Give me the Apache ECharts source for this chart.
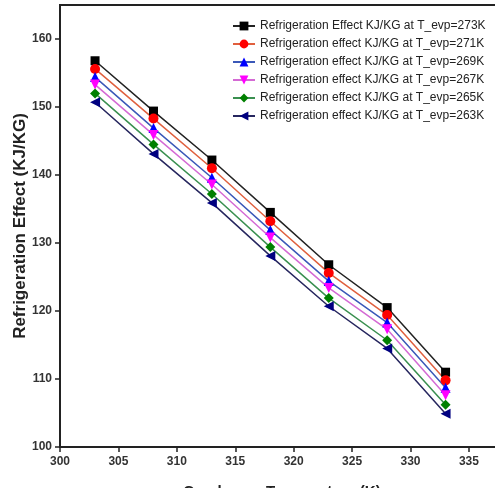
<!DOCTYPE html>
<html>
<head>
<meta charset="utf-8">
<script src="https://cdn.jsdelivr.net/npm/echarts@6/dist/echarts.min.js"></script>
<style>
  html, body { margin: 0; padding: 0; background: #fff; }
  #main { width: 495px; height: 488px; }
</style>
</head>
<body>
<div id="main"></div>
<script>
// condenser temperature (K)
const condTemp = [303, 308, 313, 318, 323, 328, 333]

// refrigeration effect (KJ/KG) at each evaporator temperature
const re273 = [156.8, 149.4, 142.2, 134.5, 126.8, 120.5, 111.0]
const re271 = [155.6, 148.3, 141.0, 133.2, 125.6, 119.4, 109.8]
const re269 = [154.4, 146.9, 139.6, 131.9, 124.4, 118.3, 108.7]
const re267 = [153.3, 145.9, 138.6, 130.8, 123.4, 117.3, 107.6]
const re265 = [152.0, 144.5, 137.2, 129.4, 121.9, 115.7, 106.2]
const re263 = [150.7, 143.1, 135.9, 128.1, 120.7, 114.5, 104.9]

const seriesNames = [
  'Refrigeration Effect KJ/KG at T_evp=273K',
  'Refrigeration effect KJ/KG at T_evp=271K',
  'Refrigeration effect KJ/KG at T_evp=269K',
  'Refrigeration effect KJ/KG at T_evp=267K',
  'Refrigeration effect KJ/KG at T_evp=265K',
  'Refrigeration effect KJ/KG at T_evp=263K'
]
const seriesData = [re273, re271, re269, re267, re265, re263]

// marker / line styles per series
const styles = [
  { symbol: 'rect', rotate: 0, color: '#000000', line: '#222222' },
  { symbol: 'circle', rotate: 0, color: '#ff0000', line: '#e0603e' },
  { symbol: 'triangle', rotate: 0, color: '#0000ff', line: '#3a58b8' },
  { symbol: 'triangle', rotate: 180, color: '#ff00ff', line: '#d46ad4' },
  { symbol: 'diamond', rotate: 0, color: '#008000', line: '#3a9050' },
  { symbol: 'triangle', rotate: 90, color: '#000080', line: '#26265e' }
]

const chart = echarts.init(document.getElementById('main'))

const axisFont = {
  fontFamily: 'Liberation Sans, Arial, sans-serif',
  fontWeight: 'bold',
  fontSize: 12,
  color: '#333'
}

const option = {
  animation: false,
  backgroundColor: '#fff',
  grid: {
    left: 60,
    top: 5,
    right: -9,
    bottom: 41,
    outerBoundsMode: 'none',
    containLabel: false,
    show: true,
    borderColor: '#222',
    borderWidth: 2
  },
  legend: {
    orient: 'vertical',
    left: 227,
    top: 15,
    itemGap: 6,
    itemWidth: 22,
    itemHeight: 11,
    textStyle: {
      fontFamily: 'Liberation Sans, Arial, sans-serif',
      fontSize: 12,
      color: '#222'
    },
    data: seriesNames
  },
  xAxis: {
    type: 'value',
    min: 300,
    max: 338,
    interval: 5,
    name: 'Condenser Temperature (K)',
    nameLocation: 'middle',
    nameGap: 37,
    nameTextStyle: {
      fontFamily: 'Liberation Sans, Arial, sans-serif',
      fontWeight: 'bold',
      fontSize: 15,
      color: '#222'
    },
    axisLine: { lineStyle: { color: '#222', width: 2 } },
    axisTick: { inside: false, length: 5, lineStyle: { color: '#222', width: 1.5 } },
    axisLabel: Object.assign({ margin: 9, showMaxLabel: false }, axisFont),
    splitLine: { show: false }
  },
  yAxis: {
    type: 'value',
    min: 100,
    max: 165,
    interval: 10,
    name: 'Refrigeration Effect (KJ/KG)',
    nameLocation: 'middle',
    nameGap: 31,
    nameMoveOverlap: false,
    nameTextStyle: {
      fontFamily: 'Liberation Sans, Arial, sans-serif',
      fontWeight: 'bold',
      fontSize: 17,
      color: '#222'
    },
    axisLine: { lineStyle: { color: '#222', width: 2 } },
    axisTick: { inside: false, length: 5, lineStyle: { color: '#222', width: 1.5 } },
    axisLabel: Object.assign({ margin: 8, showMaxLabel: false }, axisFont),
    splitLine: { show: false }
  },
  series: seriesNames.map((name, i) => ({
    name,
    type: 'line',
    data: condTemp.map((t, j) => [t, seriesData[i][j]]),
    symbol: styles[i].symbol,
    symbolRotate: styles[i].rotate,
    symbolSize: styles[i].symbol === 'rect' ? 9 : 10,
    showAllSymbol: true,
    lineStyle: { color: styles[i].line, width: 1.5 },
    itemStyle: { color: styles[i].color }
  }))
}

chart.setOption(option)
</script>
</body>
</html>
